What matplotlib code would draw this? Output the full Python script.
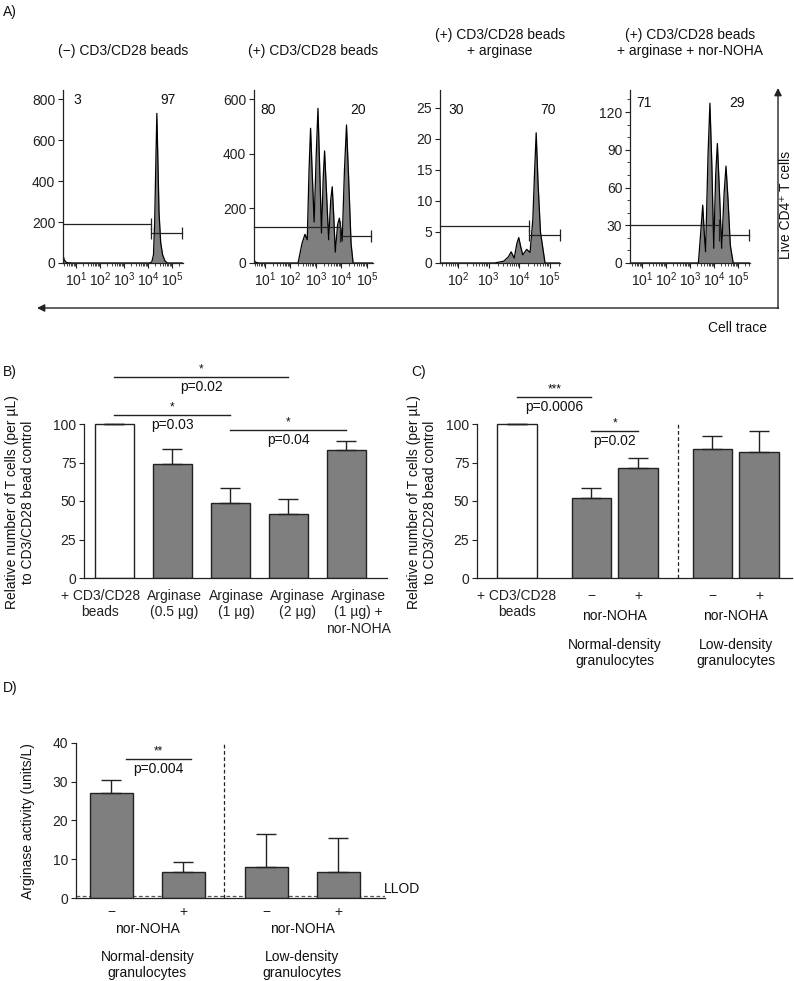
import matplotlib
matplotlib.use('Agg')
import matplotlib.pyplot as plt
import numpy as np
from matplotlib.transforms import blended_transform_factory, ScaledTranslation

plt.rcParams['font.family'] = ['Liberation Sans', 'DejaVu Sans']
plt.rcParams['font.size'] = 10
plt.rcParams['mathtext.fontset'] = 'custom'
plt.rcParams['mathtext.rm'] = 'Liberation Sans'
plt.rcParams['mathtext.it'] = 'Liberation Sans:italic'
plt.rcParams['axes.linewidth'] = 0.9
plt.rcParams['axes.edgecolor'] = '#222222'
plt.rcParams['xtick.color'] = '#222222'
plt.rcParams['ytick.color'] = '#222222'
plt.rcParams['text.color'] = '#111111'

# ---- panel A: cell trace histograms (log10 fluorescence, cell count) ----
hist1_x = [0.45, 0.50, 0.60, 0.80, 4.05, 4.15, 4.22, 4.27, 4.32, 4.36, 4.40, 4.45, 4.52, 4.60, 4.70, 4.80, 5.45]
hist1_y = [40, 15, 2, 0, 0, 5, 40, 200, 500, 730, 520, 250, 100, 40, 10, 0, 0]

hist2_x = [0.57, 0.62, 0.75, 2.30, 2.45, 2.57, 2.66, 2.73, 2.79, 2.85, 2.93, 3.01, 3.08, 3.15, 3.22,
           3.29, 3.34, 3.40, 3.50, 3.58, 3.64, 3.70, 3.76, 3.85, 3.92, 3.98, 4.03, 4.12, 4.20, 4.28,
           4.38, 4.46, 5.24]
hist2_y = [12, 3, 0, 0, 70, 105, 85, 340, 493, 340, 150, 390, 566, 340, 110,
           320, 410, 290, 85, 230, 279, 170, 40, 140, 164, 125, 80, 340, 505, 320,
           70, 0, 0]

hist3_x = [1.41, 3.20, 3.50, 3.65, 3.74, 3.84, 3.93, 3.99, 4.05, 4.12, 4.25, 4.36, 4.45, 4.51, 4.56,
           4.62, 4.70, 4.85, 5.34]
hist3_y = [0, 0, 0.3, 1.0, 1.8, 0.8, 3.2, 4.1, 2.7, 1.3, 2.2, 1.7, 7, 15, 21,
           13, 5, 0, 0]

hist4_x = [0.5, 3.35, 3.45, 3.53, 3.60, 3.65, 3.75, 3.83, 3.91, 3.99, 4.07, 4.14, 4.22, 4.32, 4.42,
           4.50, 4.58, 4.68, 4.80, 5.5]
hist4_y = [0, 0, 25, 46, 22, 9, 85, 127, 78, 11.7, 70, 95, 60, 11.7, 55,
           77, 52, 14, 0, 0]

hist_titles = ['(\u2212) CD3/CD28 beads', '(+) CD3/CD28 beads',
               '(+) CD3/CD28 beads\n+ arginase', '(+) CD3/CD28 beads\n+ arginase + nor-NOHA']
gate_pct = [('3', '97'), ('80', '20'), ('30', '70'), ('71', '29')]
# (split point, left gate height, right gate end, right gate height)
gates = [(4.13, 189, 5.40, 145), (3.94, 131, 5.16, 100), (4.33, 6.0, 5.33, 4.56), (4.22, 30, 5.45, 22.3)]

# ---- panel B ----
B_labels = ['+ CD3/CD28\nbeads', 'Arginase\n(0.5 \u00b5g)', 'Arginase\n(1 \u00b5g)',
            'Arginase\n(2 \u00b5g)', 'Arginase\n(1 \u00b5g) +\nnor-NOHA']
B_means = [100, 74, 48.7, 41.6, 83]
B_err = [0, 9.5, 9.7, 9.7, 6]
B_sig = [(0, 3, 130.5, '*', 'p=0.02'), (0, 2, 105.8, '*', 'p=0.03'), (2, 4, 96.1, '*', 'p=0.04')]

# ---- panel C ----
C_labels = ['+ CD3/CD28\nbeads', '\u2212', '+', '\u2212', '+']
C_means = [100, 52, 71.4, 83.8, 81.8]
C_err = [0, 6.4, 6.5, 8.2, 13.7]
C_sig = [(0, 1.6, 117.5, '***', 'p=0.0006'), (1.6, 2.6, 95.5, '*', 'p=0.02')]

# ---- panel D ----
D_labels = ['\u2212', '+', '\u2212', '+']
D_means = [27.1, 6.7, 8.0, 6.7]
D_err = [3.4, 2.6, 8.5, 8.8]
D_sig = [(0.2, 1.1, 35.9, '**', 'p=0.004')]
LLOD = 0.5

groups = ['Normal-density\ngranulocytes', 'Low-density\ngranulocytes']

W, H = 794, 981
fig = plt.figure(figsize=(W / 100, H / 100), dpi=100)


def box(x0, y0, x1, y1):
    return fig.add_axes([x0 / W, 1 - y1 / H, (x1 - x0) / W, (y1 - y0) / H])


# overlay in pixel coordinates for free text and arrows
ov = fig.add_axes([0, 0, 1, 1])
ov.set_xlim(0, W)
ov.set_ylim(H, 0)
ov.axis('off')
ov.set_zorder(10)

GREY = '#7f7f7f'
DARK = '#222222'


def histogram(rect, xs, ys, xlim, ymax, yticks, yminor, gate, title, pct, pct_y):
    ax = box(*rect)
    ax.fill_between(xs, ys, color=GREY, lw=0)
    ax.plot(xs, ys, color='black', lw=0.9)
    split, yl, xr, yr = gate
    ax.plot([xlim[0], split], [yl, yl], color=DARK, lw=0.9, clip_on=False)
    ax.plot([split], [yl], marker='|', ms=9, mew=0.9, color=DARK, clip_on=False)
    ax.plot([split, xr], [yr, yr], color=DARK, lw=0.9, clip_on=False)
    ax.plot([split, xr], [yr, yr], ls='none', marker='|', ms=9, mew=0.9, color=DARK, clip_on=False)
    ax.set_xlim(*xlim)
    ax.set_ylim(0, ymax)
    majors = [n for n in range(1, 6) if n >= xlim[0]]
    ax.set_xticks(majors)
    ax.set_xticklabels(['$10^{%d}$' % n for n in majors])
    minors = [n + np.log10(k) for n in range(0, 6) for k in range(2, 10)
              if xlim[0] <= n + np.log10(k) <= xlim[1]]
    ax.set_xticks(minors, minor=True)
    ax.set_yticks(yticks)
    if yminor:
        ax.set_yticks(yminor, minor=True)
    ax.tick_params(which='major', length=3.5, width=0.8, pad=2, labelsize=10)
    ax.tick_params(which='minor', length=2, width=0.6)
    for s in ['top', 'right']:
        ax.spines[s].set_visible(False)
    ax.patch.set_alpha(0)
    cx = (rect[0] + rect[2]) / 2
    ov.text(cx, 58, title, ha='center', va='bottom', fontsize=10, linespacing=1.2)
    ov.text(pct_y[0], pct_y[2], pct[0], ha='center', va='center', fontsize=10)
    ov.text(pct_y[1], pct_y[2], pct[1], ha='center', va='center', fontsize=10)
    return ax


histogram((63, 90, 183, 263), hist1_x, hist1_y, (0.45, 5.45), 844, [0, 200, 400, 600, 800], None,
          gates[0], hist_titles[0], gate_pct[0], (77, 168, 100))
histogram((254, 90, 373, 263), hist2_x, hist2_y, (0.57, 5.24), 633, [0, 200, 400, 600], None,
          gates[1], hist_titles[1], gate_pct[1], (268, 358, 110))
histogram((440, 90, 560, 263), hist3_x, hist3_y, (1.41, 5.34), 27.9, [0, 5, 10, 15, 20, 25], None,
          gates[2], hist_titles[2], gate_pct[2], (456, 548, 110))
histogram((630, 90, 750, 263), hist4_x, hist4_y, (0.5, 5.5), 137.5, [0, 30, 60, 90, 120],
          [10, 20, 40, 50, 70, 80, 100, 110, 130],
          gates[3], hist_titles[3], gate_pct[3], (644, 737, 103))

arrow = dict(arrowstyle='-|>', color=DARK, lw=1.0, mutation_scale=11, shrinkA=0, shrinkB=0)
ov.annotate('', xy=(37, 308), xytext=(778.5, 308), arrowprops=arrow)
ov.annotate('', xy=(778, 88), xytext=(778, 308.5), arrowprops=arrow)
ov.text(786, 205, 'Live CD4\u207a T cells', rotation=90, ha='center', va='center', fontsize=10)
ov.text(738, 328, 'Cell trace', ha='center', va='center', fontsize=10)

for letter, x, y in [('A)', 3, 12), ('B)', 3, 372), ('C)', 411, 372), ('D)', 3, 688)]:
    ov.text(x, y, letter, ha='left', va='center', fontsize=10)


def bars(ax, pos, means, err, width, colors, pad):
    ax.bar(pos, means, width, color=colors, edgecolor=DARK, lw=1.0, zorder=2)
    ax.errorbar(pos, means, yerr=[[0] * len(err), err], fmt='none', ecolor=DARK,
                elinewidth=1.0, capsize=7, capthick=1.0, zorder=3)
    for s in ['top', 'right']:
        ax.spines[s].set_visible(False)
    ax.tick_params(axis='x', length=0, pad=pad, labelsize=10)
    ax.tick_params(axis='y', length=3.5, width=0.8, pad=2, labelsize=10)
    ax.patch.set_alpha(0)


def sig(ax, items, star_gap, p_gap):
    for x0, x1, y, star, ptxt in items:
        ax.plot([x0, x1], [y, y], color=DARK, lw=1.0, clip_on=False)
        xm = (x0 + x1) / 2
        ax.annotate(star, (xm, y), xytext=(0, star_gap), textcoords='offset points',
                    ha='center', va='bottom', fontsize=8.5)
        ax.annotate(ptxt, (xm, y), xytext=(0, -p_gap), textcoords='offset points',
                    ha='center', va='top', fontsize=10)


# panel B
axB = box(84, 362.4, 387, 578)
B_pos = list(range(len(B_means)))
bars(axB, B_pos, B_means, B_err, 0.67, ['white'] + [GREY] * 4, 8)
axB.set_xlim(-0.52, 4.7)
axB.set_ylim(0, 140)
axB.set_yticks([0, 25, 50, 75, 100])
axB.spines['left'].set_bounds(0, 100)
axB.set_xticks(B_pos)
axB.set_xticklabels(B_labels, linespacing=1.2)
# labels sit slightly off the bar centres in the original layout
for lab, dx in zip(axB.get_xticklabels(), [-14, 2, 6, 9, 12]):
    lab.set_transform(lab.get_transform() + ScaledTranslation(dx / 100, 0, fig.dpi_scale_trans))
sig(axB, B_sig, 1, 2)
ov.text(20, 502, 'Relative number of T cells (per \u00b5L)\nto CD3/CD28 bead control', rotation=90,
        ha='center', va='center', fontsize=10, linespacing=1.25)

# panel C
axC = box(477, 362.4, 792, 578)
C_pos = [0, 1.6, 2.6, 4.2, 5.2]
bars(axC, C_pos, C_means, C_err, 0.84, ['white'] + [GREY] * 4, 8)
axC.plot([3.45, 3.45], [0, 100], ls=(0, (3, 2)), color=DARK, lw=0.9)
axC.set_xlim(-0.86, 5.91)
axC.set_ylim(0, 140)
axC.set_yticks([0, 25, 50, 75, 100])
axC.spines['left'].set_bounds(0, 100)
axC.set_xticks(C_pos)
axC.set_xticklabels(C_labels, linespacing=1.2)
sig(axC, C_sig, 1, 2)
tC = blended_transform_factory(axC.transData, ov.transData)
for xg, g in zip([2.1, 4.7], groups):
    axC.text(xg, 616, 'nor-NOHA', transform=tC, ha='center', va='center', fontsize=10)
    axC.text(xg, 653, g, transform=tC, ha='center', va='center', fontsize=10, linespacing=1.2)
ov.text(422, 502, 'Relative number of T cells (per \u00b5L)\nto CD3/CD28 bead control', rotation=90,
        ha='center', va='center', fontsize=10, linespacing=1.25)

# panel D
axD = box(76, 723.6, 385, 898)
D_pos = [0, 1, 2.15, 3.15]
axD.plot([-0.49, 3.8], [LLOD, LLOD], ls=(0, (3, 2)), color='#555555', lw=0.9, zorder=1)
bars(axD, D_pos, D_means, D_err, 0.6, [GREY] * 4, 5)
axD.plot([1.57, 1.57], [0, 40], ls=(0, (3, 2)), color=DARK, lw=0.9)
axD.set_xlim(-0.49, 3.8)
axD.set_ylim(0, 45)
axD.set_yticks([0, 10, 20, 30, 40])
axD.spines['left'].set_bounds(0, 40)
axD.set_xticks(D_pos)
axD.set_xticklabels(D_labels)
sig(axD, D_sig, 1, 2)
axD.annotate('LLOD', (3.8, LLOD), xytext=(-1, 0), textcoords='offset points',
             ha='left', va='bottom', fontsize=10)
tD = blended_transform_factory(axD.transData, ov.transData)
for xg, g in zip([0.5, 2.65], groups):
    axD.text(xg, 929, 'nor-NOHA', transform=tD, ha='center', va='center', fontsize=10)
    axD.text(xg, 965, g, transform=tD, ha='center', va='center', fontsize=10, linespacing=1.2)
ov.text(28, 821, 'Arginase activity (units/L)', rotation=90, ha='center', va='center', fontsize=10)

fig.savefig('out.png', dpi=100)
